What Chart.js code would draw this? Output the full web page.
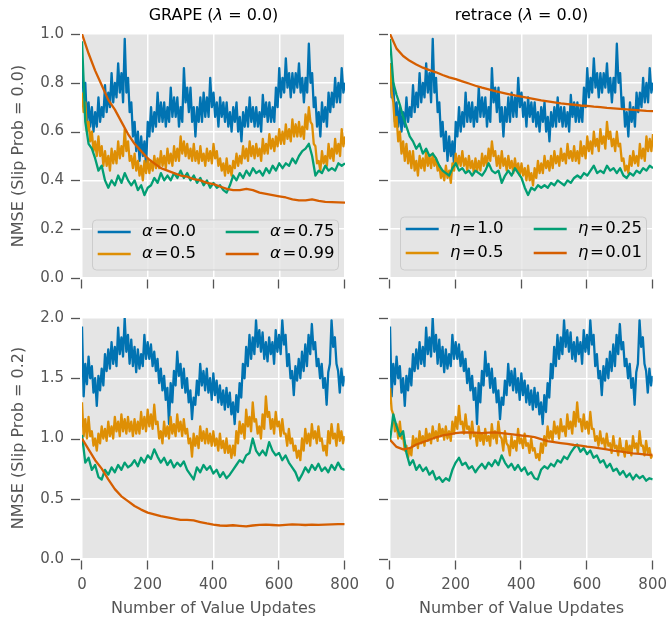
<!DOCTYPE html>
<html><head><meta charset="utf-8">
<script src="https://cdn.jsdelivr.net/npm/chart.js@4.4.0/dist/chart.umd.min.js"></script>
<style>
html,body{margin:0;padding:0;background:#fff;}
body{width:667px;height:623px;position:relative;overflow:hidden;font-family:"DejaVu Sans",sans-serif;}
canvas{position:absolute;}
.t{position:absolute;white-space:nowrap;font-size:16px;line-height:20px;}
.title{color:#000;transform:translate(-50%,-50%);}
.xl{color:#555;transform:translate(-50%,-50%);}
.yl{color:#555;transform:translate(-50%,-50%) rotate(-90deg);}
</style></head><body>
<canvas id="c0"></canvas><canvas id="c1"></canvas><canvas id="c2"></canvas><canvas id="c3"></canvas>
<div class="t title" style="left:213.5px;top:15px">GRAPE (<i>λ</i> = 0.0)</div>
<div class="t title" style="left:521.5px;top:15px">retrace (<i>λ</i> = 0.0)</div>
<div class="t yl" style="left:18px;top:156px">NMSE (Slip Prob = 0.0)</div>
<div class="t yl" style="left:18px;top:438px">NMSE (Slip Prob = 0.2)</div>
<div class="t xl" style="left:213.5px;top:608px">Number of Value Updates</div>
<div class="t xl" style="left:521.5px;top:608px">Number of Value Updates</div>
<script>
// ---------- data ----------
const updatesStep5 = Array.from({length: 161}, (_, i) => i * 5);
const updatesStep10 = Array.from({length: 81}, (_, i) => i * 10);
const updatesStep20 = Array.from({length: 41}, (_, i) => i * 20);
const xTicks = [0, 200, 400, 600, 800];
const yTicksTop = [0, 0.2, 0.4, 0.6, 0.8, 1.0];
const yTicksBottom = [0, 0.5, 1.0, 1.5, 2.0];

const grapeLabels = ['α', 'α', 'α', 'α'];
const grapeValues = ['0.0', '0.5', '0.75', '0.99'];
const retraceLabels = ['η', 'η', 'η', 'η'];
const retraceValues = ['1.0', '0.5', '0.25', '0.01'];
const colors = ['#0173B2', '#DE8F05', '#029E73', '#D55E00'];

// ===== Slip Prob = 0.0 =====
// alpha = 0.0 (GRAPE) and eta = 1.0 (retrace) trace the same curve; every 5 updates
const blueSlip00 = [
0.88,0.74,0.80,0.64,0.72,0.62,0.70,0.60,0.68,0.62,0.74,0.64,0.70,0.66,0.79,0.68,0.76,0.70,0.84,0.72,
0.80,0.74,0.88,0.76,0.84,0.72,0.98,0.76,0.82,0.68,0.72,0.58,0.64,0.52,0.60,0.48,0.58,0.50,0.56,0.46,
0.64,0.58,0.70,0.60,0.68,0.62,0.76,0.64,0.72,0.64,0.72,0.62,0.70,0.64,0.78,0.66,0.74,0.66,0.74,0.62,
0.70,0.64,0.86,0.72,0.78,0.68,0.78,0.64,0.70,0.58,0.70,0.64,0.74,0.64,0.76,0.66,0.74,0.66,0.82,0.70,
0.76,0.66,0.72,0.62,0.74,0.66,0.72,0.64,0.72,0.62,0.68,0.60,0.70,0.64,0.72,0.60,0.66,0.56,0.68,0.62,
0.70,0.62,0.74,0.64,0.70,0.62,0.70,0.62,0.68,0.60,0.75,0.66,0.72,0.64,0.72,0.64,0.70,0.64,0.78,0.70,
0.86,0.74,0.82,0.76,0.90,0.78,0.84,0.74,0.84,0.76,0.84,0.78,0.88,0.76,0.82,0.72,0.82,0.76,0.96,0.80,
0.84,0.70,0.74,0.62,0.68,0.58,0.72,0.64,0.70,0.62,0.76,0.68,0.76,0.70,0.82,0.72,0.80,0.72,0.86,0.76,
0.80];
// alpha = 0.5, every 5 updates
const grapeA05Slip00 = [
0.76,0.68,0.72,0.60,0.64,0.56,0.60,0.52,0.56,0.50,0.58,0.50,0.54,0.46,0.52,0.46,0.50,0.44,0.53,0.47,
0.52,0.47,0.56,0.49,0.54,0.50,0.61,0.52,0.56,0.48,0.50,0.45,0.51,0.44,0.48,0.42,0.46,0.40,0.48,0.43,
0.49,0.43,0.48,0.44,0.50,0.45,0.49,0.45,0.52,0.46,0.50,0.45,0.53,0.47,0.51,0.46,0.54,0.48,0.53,0.48,
0.58,0.51,0.56,0.50,0.55,0.49,0.53,0.48,0.55,0.48,0.52,0.47,0.54,0.48,0.51,0.46,0.53,0.48,0.52,0.47,
0.55,0.49,0.52,0.46,0.49,0.44,0.47,0.42,0.49,0.43,0.46,0.42,0.48,0.45,0.51,0.46,0.50,0.47,0.54,0.49,
0.53,0.48,0.56,0.50,0.54,0.49,0.55,0.50,0.53,0.48,0.57,0.51,0.55,0.51,0.59,0.53,0.57,0.52,0.58,0.54,
0.61,0.55,0.60,0.55,0.63,0.57,0.61,0.56,0.65,0.58,0.63,0.58,0.64,0.58,0.62,0.57,0.67,0.61,0.70,0.64,
0.63,0.55,0.54,0.47,0.48,0.44,0.52,0.47,0.50,0.46,0.55,0.49,0.53,0.48,0.57,0.51,0.55,0.50,0.61,0.54,
0.58];
// alpha = 0.75, every 10 updates
const grapeA075Slip00 = [0.97,0.64,0.55,0.53,0.49,0.44,0.46,0.40,0.37,0.40,0.38,0.42,0.39,0.43,0.40,0.38,0.40,0.36,0.38,0.34,
0.37,0.38,0.41,0.39,0.43,0.40,0.42,0.40,0.43,0.41,0.44,0.41,0.43,0.40,0.42,0.39,0.41,0.38,0.40,0.37,
0.39,0.37,0.38,0.36,0.35,0.38,0.42,0.40,0.43,0.41,0.44,0.42,0.45,0.43,0.44,0.42,0.45,0.43,0.46,0.44,
0.47,0.45,0.47,0.46,0.49,0.47,0.50,0.52,0.53,0.55,0.50,0.42,0.44,0.43,0.46,0.44,0.45,0.44,0.47,0.46,0.47];
// alpha = 0.99, every 20 updates
const grapeA099Slip00 = [1.00,0.92,0.85,0.79,0.73,0.69,0.64,0.59,0.55,0.52,0.49,0.47,0.45,0.44,0.43,0.42,0.415,0.405,0.40,0.39,
0.385,0.375,0.365,0.36,0.36,0.365,0.36,0.35,0.345,0.34,0.335,0.33,0.322,0.318,0.318,0.322,0.316,0.312,0.311,0.31,0.309];
// eta = 0.5, every 5 updates
const retraceE05Slip00 = [
0.88,0.76,0.72,0.62,0.66,0.56,0.60,0.51,0.56,0.48,0.55,0.47,0.52,0.45,0.52,0.44,0.48,0.42,0.50,0.45,
0.49,0.44,0.52,0.46,0.50,0.45,0.51,0.46,0.49,0.44,0.46,0.41,0.44,0.40,0.46,0.41,0.44,0.39,0.47,0.44,
0.51,0.46,0.50,0.46,0.52,0.46,0.49,0.44,0.50,0.45,0.48,0.43,0.49,0.44,0.48,0.44,0.51,0.46,0.50,0.46,
0.53,0.48,0.56,0.50,0.52,0.46,0.50,0.45,0.52,0.46,0.49,0.44,0.50,0.45,0.48,0.43,0.49,0.44,0.47,0.42,
0.47,0.42,0.45,0.40,0.46,0.40,0.43,0.38,0.45,0.41,0.48,0.43,0.47,0.43,0.50,0.45,0.48,0.44,0.50,0.45,
0.52,0.47,0.50,0.46,0.53,0.48,0.51,0.47,0.55,0.49,0.52,0.48,0.54,0.48,0.52,0.47,0.56,0.50,0.54,0.49,
0.58,0.52,0.56,0.51,0.60,0.54,0.57,0.52,0.61,0.55,0.58,0.53,0.64,0.57,0.60,0.54,0.57,0.52,0.60,0.54,
0.55,0.48,0.49,0.44,0.46,0.43,0.50,0.46,0.52,0.47,0.50,0.46,0.55,0.49,0.53,0.48,0.58,0.52,0.57,0.52,
0.59];
// eta = 0.25, every 10 updates
const retraceE025Slip00 = [0.98,0.80,0.75,0.71,0.66,0.62,0.58,0.56,0.53,0.55,0.51,0.53,0.50,0.51,0.49,0.46,0.44,0.43,0.42,0.45,
0.47,0.44,0.45,0.43,0.44,0.42,0.44,0.43,0.42,0.44,0.47,0.44,0.43,0.44,0.39,0.42,0.44,0.42,0.45,0.43,
0.41,0.37,0.34,0.37,0.36,0.38,0.37,0.38,0.37,0.39,0.38,0.40,0.39,0.38,0.40,0.39,0.41,0.42,0.41,0.43,
0.42,0.44,0.46,0.43,0.44,0.43,0.46,0.44,0.45,0.43,0.45,0.42,0.41,0.43,0.42,0.44,0.43,0.45,0.44,0.46,0.45];
// eta = 0.01, every 20 updates
const retraceE001Slip00 = [1.00,0.94,0.91,0.89,0.875,0.862,0.852,0.843,0.832,0.822,0.815,0.806,0.797,0.788,0.78,0.773,0.766,0.76,0.754,0.748,
0.743,0.738,0.733,0.728,0.724,0.72,0.716,0.713,0.71,0.707,0.705,0.702,0.70,0.697,0.695,0.693,0.691,0.689,0.687,0.685,0.684];

// ===== Slip Prob = 0.2 =====
// alpha = 0.0 (GRAPE) and eta = 1.0 (retrace) trace the same curve; every 5 updates
const blueSlip02 = [
1.93,1.35,1.62,1.45,1.68,1.50,1.60,1.38,1.50,1.27,1.52,1.40,1.58,1.44,1.70,1.56,1.74,1.58,1.80,1.62,
1.76,1.60,1.92,1.70,1.84,1.68,2.00,1.72,1.86,1.62,1.82,1.60,1.76,1.55,1.74,1.58,1.70,1.60,1.86,1.66,
1.80,1.66,1.78,1.60,1.72,1.56,1.66,1.46,1.58,1.40,1.52,1.32,1.42,1.12,1.46,1.30,1.56,1.44,1.72,1.52,
1.62,1.42,1.58,1.38,1.50,1.30,1.40,1.16,1.34,1.28,1.48,1.36,1.62,1.44,1.56,1.40,1.58,1.38,1.50,1.32,
1.54,1.36,1.48,1.30,1.44,1.28,1.40,1.24,1.42,1.26,1.38,1.20,1.30,1.12,1.36,1.22,1.46,1.34,1.62,1.50,
1.76,1.60,1.86,1.66,1.84,1.70,1.98,1.76,1.90,1.72,1.88,1.66,1.80,1.64,1.84,1.70,1.80,1.62,1.90,1.72,
1.86,1.70,1.98,1.78,1.86,1.60,1.70,1.50,1.56,1.36,1.60,1.48,1.66,1.50,1.72,1.56,1.78,1.60,1.86,1.70,
1.95,1.74,1.80,1.60,1.66,1.50,1.62,1.42,1.50,1.28,1.55,1.62,1.98,1.76,1.84,1.62,1.56,1.38,1.58,1.44,
1.52];
// alpha = 0.5, every 5 updates
const grapeA05Slip02 = [
1.30,1.02,1.16,1.00,1.18,1.02,1.06,0.94,1.00,0.90,1.04,0.96,1.10,1.00,1.08,0.98,1.14,1.02,1.10,1.00,
1.18,1.06,1.14,1.02,1.20,1.06,1.16,1.04,1.18,1.06,1.14,1.02,1.16,1.04,1.14,1.04,1.22,1.08,1.18,1.06,
1.24,1.10,1.20,1.08,1.28,1.12,1.14,1.00,1.06,0.96,1.14,1.02,1.10,1.00,1.18,1.04,1.12,1.02,1.20,1.06,
1.14,1.02,1.16,1.04,1.08,0.96,1.00,0.85,1.04,0.94,1.02,0.92,1.10,0.98,1.06,0.96,1.08,0.96,1.04,0.94,
1.06,0.94,1.00,0.90,1.04,0.92,0.98,0.88,1.00,0.88,0.94,0.84,0.94,0.86,1.06,0.96,1.14,1.04,1.12,1.00,
1.24,1.10,1.18,1.06,1.30,1.14,1.16,1.04,1.10,1.00,1.20,1.08,1.35,1.18,1.22,1.08,1.16,1.04,1.22,1.10,
1.14,1.02,1.16,1.04,1.04,0.94,1.08,0.96,1.00,0.90,0.94,0.84,0.90,0.82,1.00,0.90,1.08,0.96,1.04,0.94,
1.12,1.00,1.06,0.96,1.10,0.98,1.00,0.90,0.94,0.86,1.06,0.96,1.12,1.00,1.04,0.94,1.12,0.98,1.06,0.96,
1.02];
// alpha = 0.75, every 10 updates
const grapeA075Slip02 = [1.03,0.80,0.84,0.74,0.78,0.68,0.66,0.74,0.70,0.76,0.72,0.78,0.74,0.80,0.76,0.78,0.82,0.77,0.84,0.80,
0.86,0.83,0.91,0.85,0.80,0.84,0.78,0.82,0.76,0.80,0.77,0.81,0.74,0.70,0.66,0.76,0.72,0.78,0.74,0.77,
0.71,0.74,0.68,0.72,0.67,0.70,0.74,0.78,0.82,0.80,0.86,0.88,1.00,0.90,0.86,0.90,0.86,0.97,0.90,0.86,
0.88,0.82,0.86,0.80,0.76,0.72,0.65,0.70,0.76,0.72,0.78,0.74,0.79,0.73,0.76,0.72,0.78,0.74,0.80,0.75,0.74];
// alpha = 0.99, every 20 updates
const grapeA099Slip02 = [1.00,0.91,0.82,0.75,0.66,0.58,0.52,0.48,0.44,0.41,0.385,0.37,0.355,0.345,0.335,0.325,0.325,0.32,0.307,0.295,
0.285,0.278,0.276,0.28,0.275,0.27,0.278,0.284,0.285,0.282,0.279,0.283,0.287,0.285,0.282,0.286,0.283,0.285,0.288,0.29,0.29];
// eta = 0.5, every 5 updates
const retraceE05Slip02 = [
1.42,1.24,1.20,1.06,1.12,1.00,1.14,1.00,1.02,0.90,0.94,0.84,0.92,0.86,1.02,0.94,1.00,0.92,1.06,0.96,
1.02,0.94,1.08,0.98,1.04,0.96,1.10,1.00,1.06,0.98,1.12,1.02,1.08,0.99,1.10,1.00,1.06,0.98,1.14,1.04,
1.18,1.08,1.27,1.12,1.14,1.04,1.20,1.08,1.10,1.00,1.14,1.02,1.04,0.94,1.10,0.98,1.04,0.95,1.08,0.98,
1.02,0.94,1.12,1.00,1.06,0.96,1.14,1.02,1.00,0.90,1.06,0.96,0.94,0.86,1.02,0.92,0.98,0.90,1.08,0.96,
1.00,0.92,1.04,0.94,0.96,0.88,1.00,0.90,0.92,0.84,0.87,0.82,0.96,0.88,1.02,0.94,1.10,1.00,1.06,0.98,
1.14,1.04,1.10,1.00,1.16,1.06,1.10,1.02,1.20,1.08,1.14,1.04,1.22,1.10,1.30,1.14,1.16,1.06,1.20,1.08,
1.14,1.04,1.22,1.08,1.08,0.98,1.02,0.94,1.06,0.96,1.00,0.92,1.04,0.94,0.96,0.88,1.02,0.92,0.94,0.86,
1.00,0.90,0.92,0.85,0.98,0.88,0.94,0.86,1.02,0.92,0.96,0.88,1.06,0.94,0.94,0.86,0.98,0.88,0.92,0.84,
0.86];
// eta = 0.25, every 10 updates
const retraceE025Slip02 = [0.98,1.20,1.10,1.02,1.06,0.88,0.78,0.82,0.74,0.78,0.73,0.76,0.70,0.73,0.66,0.68,0.64,0.67,0.65,0.74,
0.80,0.84,0.78,0.80,0.75,0.77,0.72,0.76,0.79,0.75,0.80,0.77,0.82,0.78,0.86,0.80,0.76,0.79,0.74,0.78,
0.73,0.76,0.70,0.72,0.67,0.66,0.74,0.77,0.75,0.79,0.77,0.82,0.80,0.85,0.83,0.88,0.92,0.95,0.89,0.92,
0.87,0.90,0.84,0.86,0.80,0.82,0.76,0.79,0.73,0.75,0.70,0.73,0.68,0.71,0.66,0.70,0.67,0.69,0.65,0.67,0.66];
// eta = 0.01, every 20 updates
const retraceE001Slip02 = [0.99,0.93,0.91,0.92,0.95,0.97,0.99,1.01,1.025,1.035,1.045,1.05,1.05,1.048,1.045,1.048,1.05,1.045,1.038,1.032,
1.025,1.02,1.012,0.995,0.978,0.97,0.962,0.955,0.946,0.94,0.932,0.927,0.918,0.91,0.90,0.893,0.885,0.877,0.872,0.867,0.863];

// ---------- helpers ----------
const pts = (xs, ys) => xs.map((x, i) => ({x: x, y: ys[i]}));

function seriesSet(syms, vals, b, o, g, r) {
  const ys = [b, o, g, r];
  const xs = [updatesStep5, updatesStep5, updatesStep10, updatesStep20];
  return syms.map((s, i) => ({
    label: s + ' = ' + vals[i], sym: s, val: vals[i],
    data: pts(xs[i], ys[i]), borderColor: colors[i], backgroundColor: colors[i],
    borderWidth: 2.3, borderJoinStyle: 'round', pointRadius: 0, fill: false, tension: 0, order: 4 - i
  }));
}

const bgPlugin = {
  id: 'bg',
  beforeDraw(chart) {
    const {ctx, chartArea: a} = chart;
    ctx.save(); ctx.fillStyle = '#E5E5E5';
    ctx.fillRect(a.left, a.top, a.right - a.left, a.bottom - a.top);
    ctx.restore();
  },
  afterDraw(chart) {
    const {ctx, chartArea: a, scales} = chart;
    ctx.save(); ctx.strokeStyle = '#555'; ctx.lineWidth = 1.3;
    scales.y.ticks.forEach(t => {
      const y = Math.round(scales.y.getPixelForValue(t.value)) + 0.5;
      ctx.beginPath(); ctx.moveTo(a.left - 11, y); ctx.lineTo(a.left - 2, y); ctx.stroke();
    });
    scales.x.ticks.forEach(t => {
      const x = Math.round(scales.x.getPixelForValue(t.value)) - 0.5;
      ctx.beginPath(); ctx.moveTo(x, a.bottom + 1.5); ctx.lineTo(x, a.bottom + 10.5); ctx.stroke();
    });
    ctx.restore();
    const lg = chart.options.plugins.boxLegend;
    if (!lg || !lg.show) return;
    const L = a.left, B = a.bottom;
    ctx.save();
    const bx = L + 10.5, bw = 246, by = B - lg.boxH - 8, bh = lg.boxH, r = 4;
    ctx.beginPath();
    ctx.moveTo(bx + r, by); ctx.lineTo(bx + bw - r, by); ctx.quadraticCurveTo(bx + bw, by, bx + bw, by + r);
    ctx.lineTo(bx + bw, by + bh - r); ctx.quadraticCurveTo(bx + bw, by + bh, bx + bw - r, by + bh);
    ctx.lineTo(bx + r, by + bh); ctx.quadraticCurveTo(bx, by + bh, bx, by + bh - r);
    ctx.lineTo(bx, by + r); ctx.quadraticCurveTo(bx, by, bx + r, by); ctx.closePath();
    ctx.fillStyle = 'rgba(229,229,229,0.8)'; ctx.fill();
    ctx.strokeStyle = '#CCCCCC'; ctx.lineWidth = 1; ctx.stroke();
    const ds = chart.data.datasets;
    const cols = [[15.7, 60], [143.7, 188]];
    ds.forEach((d, i) => {
      const c = cols[Math.floor(i / 2)], ry = B - lg.rows[i % 2];
      ctx.strokeStyle = d.borderColor; ctx.lineWidth = 2.5;
      ctx.beginPath(); ctx.moveTo(L + c[0], ry); ctx.lineTo(L + c[0] + 33, ry); ctx.stroke();
      ctx.fillStyle = '#000'; ctx.textBaseline = 'middle'; ctx.textAlign = 'left';
      let x = L + c[1];
      ctx.font = 'italic 16.5px "DejaVu Sans"';
      ctx.fillText(d.sym, x, ry); x += ctx.measureText(d.sym).width + 1.5;
      ctx.font = '16.5px "DejaVu Sans"';
      ctx.fillText('=', x, ry); x += ctx.measureText('=').width + 1.5;
      ctx.fillText(d.val, x, ry);
    });
    ctx.restore();
  }
};

function makePanel(p) {
  const cv = document.getElementById(p.id);
  let W = (p.R - p.L) + 90, H = (p.B - p.T) + 70;
  cv.width = W; cv.height = H;
  cv.style.width = W + 'px'; cv.style.height = H + 'px';
  const tickFont = {family: 'DejaVu Sans', size: 15};
  const chart = new Chart(cv, {
    type: 'line',
    data: {datasets: p.datasets},
    plugins: [bgPlugin],
    options: {
      responsive: false, maintainAspectRatio: false, animation: false, devicePixelRatio: 1,
      layout: {padding: {left: 0, top: 0, right: 0, bottom: 0}},
      plugins: {legend: {display: false}, tooltip: {enabled: false}, boxLegend: p.legend},
      scales: {
        x: {
          type: 'linear', min: 0, max: 800,
          afterFit(s) { s.height = 42; },
          afterBuildTicks(s) { s.ticks = xTicks.map(v => ({value: v})); },
          grid: {color: '#FFFFFF', lineWidth: 1.5, drawTicks: false},
          border: {display: false},
          ticks: {color: '#555', font: tickFont, padding: 17, maxRotation: 0, autoSkip: false,
                  callback: v => p.showX ? String(v) : ''}
        },
        y: {
          type: 'linear', min: 0, max: p.yMax,
          afterFit(s) { s.width = 62; },
          afterBuildTicks(s) { s.ticks = p.yTicks.map(v => ({value: v})); },
          grid: {color: '#FFFFFF', lineWidth: 1.5, drawTicks: false},
          border: {display: false},
          ticks: {color: '#555', font: tickFont, padding: 18,
                  callback: v => p.showY ? v.toFixed(1) : ''}
        }
      }
    }
  });
  // size/position the canvas so that the plotting area lands on the target rectangle
  for (let k = 0; k < 3; k++) {
    const a = chart.chartArea;
    W = Math.round(W + (p.R - p.L) - (a.right - a.left));
    H = Math.round(H + (p.B - p.T) - (a.bottom - a.top));
    chart.resize(W, H);
  }
  const b = chart.chartArea;
  cv.style.left = Math.round(p.L - b.left) + 'px';
  cv.style.top = Math.round(p.T - b.top) + 'px';
  return chart;
}

makePanel({id: 'c0', L: 82, R: 345, T: 34, B: 278, yMax: 1.0, yTicks: yTicksTop, showX: false, showY: true,
  datasets: seriesSet(grapeLabels, grapeValues, blueSlip00, grapeA05Slip00, grapeA075Slip00, grapeA099Slip00),
  legend: {show: true, boxH: 50, rows: [46, 24]}});
makePanel({id: 'c1', L: 390, R: 653, T: 34, B: 278, yMax: 1.0, yTicks: yTicksTop, showX: false, showY: false,
  datasets: seriesSet(retraceLabels, retraceValues, blueSlip00, retraceE05Slip00, retraceE025Slip00, retraceE001Slip00),
  legend: {show: true, boxH: 53, rows: [49, 25]}});
makePanel({id: 'c2', L: 82, R: 345, T: 318, B: 559, yMax: 2.0, yTicks: yTicksBottom, showX: true, showY: true,
  datasets: seriesSet(grapeLabels, grapeValues, blueSlip02, grapeA05Slip02, grapeA075Slip02, grapeA099Slip02),
  legend: {show: false}});
makePanel({id: 'c3', L: 390, R: 653, T: 318, B: 559, yMax: 2.0, yTicks: yTicksBottom, showX: true, showY: false,
  datasets: seriesSet(retraceLabels, retraceValues, blueSlip02, retraceE05Slip02, retraceE025Slip02, retraceE001Slip02),
  legend: {show: false}});
</script>
</body></html>
